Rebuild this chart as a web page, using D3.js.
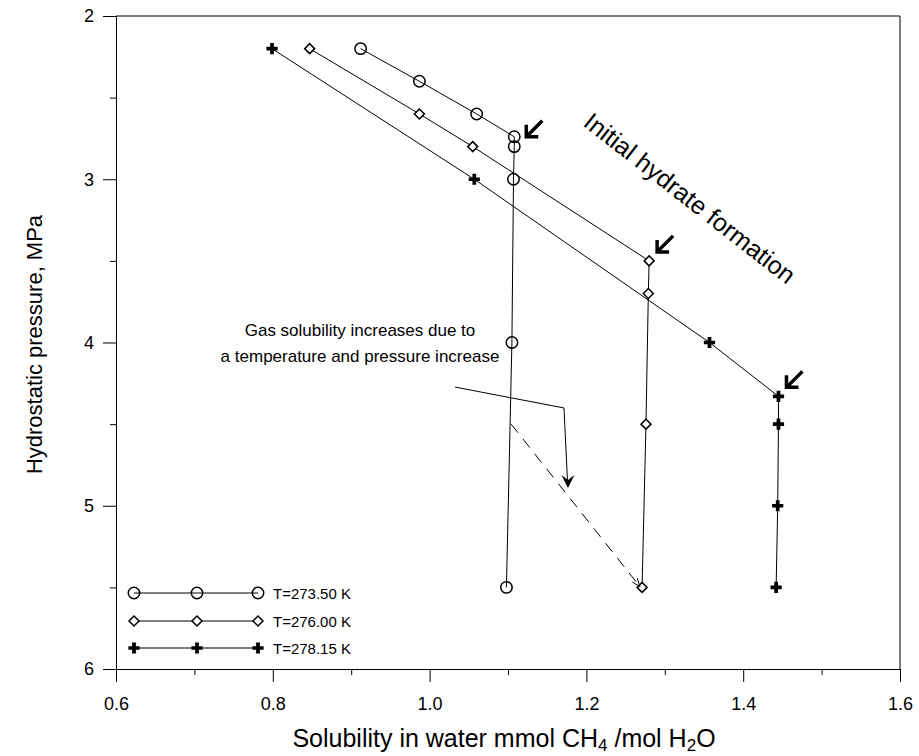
<!DOCTYPE html>
<html>
<head>
<meta charset="utf-8">
<script src="https://cdn.jsdelivr.net/npm/d3@7/dist/d3.min.js"></script>
<style>
  body { margin: 0; background: #fff; }
  svg { display: block; font-family: Arial, "Liberation Sans", Helvetica, sans-serif; }
</style>
</head>
<body>
<svg id="chart" width="919" height="756"></svg>
<script>
// ---------------- data ----------------
const seriesNames = ["T=273.50 K", "T=276.00 K", "T=278.15 K"];
const sol273 = [0.912, 0.987, 1.060, 1.108, 1.108, 1.107, 1.105, 1.098];
const p273   = [2.2,   2.4,   2.6,   2.74,  2.8,   3.0,   4.0,   5.5];
const sol276 = [0.847, 0.987, 1.055, 1.280, 1.279, 1.276, 1.271];
const p276   = [2.2,   2.6,   2.8,   3.5,   3.7,   4.5,   5.5];
const sol278 = [0.799, 1.057, 1.357, 1.445, 1.445, 1.444, 1.442];
const p278   = [2.2,   3.0,   4.0,   4.33,  4.5,   5.0,   5.5];
// points where initial hydrate formation is marked
const hydrateSol = [1.108, 1.280, 1.445];
const hydrateP   = [2.74,  3.5,   4.33];
const xTicks = [0.6, 0.8, 1.0, 1.2, 1.4, 1.6];
const yTicks = [2, 3, 4, 5, 6];

// ---------------- layout ----------------
const svg = d3.select("#chart");
const mLeft = 116, mRight = 900, mTop = 16, mBottom = 669;
const x = d3.scaleLinear().domain([0.6, 1.6]).range([mLeft, mRight]);
const y = d3.scaleLinear().domain([2, 6]).range([mTop, mBottom]);

// frame
svg.append("path").attr("d", `M${mLeft},${mTop}H${mRight}V${mBottom}`)
  .attr("fill", "none").attr("stroke", "#000").attr("stroke-width", 1);

// axes
const xAxis = d3.axisBottom(x).tickValues(xTicks).tickFormat(d3.format(".1f")).tickSize(13).tickPadding(15);
svg.append("g").attr("transform", `translate(0,${mBottom})`).call(xAxis);
const yAxis = d3.axisLeft(y).tickValues(yTicks).tickFormat(d3.format("d")).tickSize(13).tickPadding(9);
svg.append("g").attr("transform", `translate(${mLeft},0)`).call(yAxis);
// minor ticks
const xMinor = [0.7, 0.9, 1.1, 1.3, 1.5];
svg.append("g").attr("transform", `translate(0,${mBottom})`)
  .call(d3.axisBottom(x).tickValues(xMinor).tickSize(6).tickFormat(""));
svg.append("g").attr("transform", `translate(${mLeft},0)`)
  .call(d3.axisLeft(y).tickValues([2.5, 3.5, 4.5, 5.5]).tickSize(6).tickFormat(""));
svg.selectAll(".domain").attr("stroke", "#000");
svg.selectAll(".tick line").attr("stroke", "#000");
svg.selectAll(".tick text").attr("font-size", 18).attr("fill", "#000")
  .attr("font-family", "Arial, 'Liberation Sans', sans-serif");

// axis titles
const xt = svg.append("text").attr("x", 504).attr("y", 747)
  .attr("text-anchor", "middle").attr("font-size", 25).attr("fill", "#000");
xt.append("tspan").text("Solubility in water mmol CH");
xt.append("tspan").attr("font-size", 17).attr("dy", 4).text("4");
xt.append("tspan").attr("dy", -4).text(" /mol H");
xt.append("tspan").attr("font-size", 17).attr("dy", 4).text("2");
xt.append("tspan").attr("dy", -4).text("O");

svg.append("text").attr("transform", `translate(34,${(mTop + mBottom) / 2 + 2}) rotate(-90)`)
  .attr("text-anchor", "middle").attr("dominant-baseline", "central")
  .attr("font-size", 22).attr("fill", "#000").text("Hydrostatic pressure, MPa");

// ---------------- series ----------------
const line = d3.line().x(d => x(d[0])).y(d => y(d[1]));
const sets = [
  { sol: sol273, p: p273, sym: "circle" },
  { sol: sol276, p: p276, sym: "diamond" },
  { sol: sol278, p: p278, sym: "cross" }
];
function drawSym(g, type, cx, cy) {
  if (type === "circle") {
    g.append("circle").attr("cx", cx).attr("cy", cy).attr("r", 5.7)
      .attr("fill", "none").attr("stroke", "#000").attr("stroke-width", 1.5);
  } else if (type === "diamond") {
    g.append("path").attr("d", `M${cx},${cy - 5}L${cx + 5},${cy}L${cx},${cy + 5}L${cx - 5},${cy}Z`)
      .attr("fill", "#fff").attr("stroke", "#000").attr("stroke-width", 1.5);
  } else {
    g.append("path").attr("transform", `translate(${cx},${cy})`)
      .attr("d", d3.symbol(d3.symbolCross, 70)())
      .attr("fill", "#000");
  }
}
sets.forEach(s => {
  const pts = s.sol.map((v, i) => [v, s.p[i]]);
  svg.append("path").attr("d", line(pts)).attr("fill", "none")
    .attr("stroke", "#000").attr("stroke-width", 1);
  const g = svg.append("g");
  pts.forEach(d => drawSym(g, s.sym, x(d[0]), y(d[1])));
});

// ---------------- annotations ----------------
const tipOff = [[12, 0], [8, -9], [8, -9]];
hydrateSol.forEach((v, i) => {
  const tx = x(v) + tipOff[i][0], ty = y(hydrateP[i]) + tipOff[i][1];
  svg.append("path")
    .attr("d", `M${tx + 16},${ty - 16}L${tx + 1},${ty - 1}M${tx},${ty - 12}L${tx},${ty}L${tx + 12},${ty}`)
    .attr("fill", "none").attr("stroke", "#000").attr("stroke-width", 3.5)
    .attr("stroke-linejoin", "miter").attr("stroke-linecap", "butt");
});
svg.append("text").attr("transform", "translate(690,198) rotate(38)")
  .attr("text-anchor", "middle").attr("dominant-baseline", "central")
  .attr("font-size", 25).attr("fill", "#000").text("Initial hydrate formation");

const ann = svg.append("text").attr("text-anchor", "middle").attr("font-size", 17).attr("fill", "#000");
ann.append("tspan").attr("x", 360).attr("y", 336).text("Gas solubility increases due to");
ann.append("tspan").attr("x", 360).attr("y", 362).text("a temperature and pressure increase");

const lead = [[1.0324, 4.273], [1.1714, 4.401], [1.1760, 4.86]];
svg.append("path").attr("d", line(lead)).attr("fill", "none").attr("stroke", "#000").attr("stroke-width", 1);
{
  const tx = x(1.1765), ty = y(4.891);
  svg.append("path").attr("d", `M${tx},${ty}L${tx - 6.5},${ty - 13}L${tx},${ty - 8}L${tx + 6.5},${ty - 13}Z`).attr("fill", "#000");
}
const dashed = [[1.104, 4.5], [1.2684, 5.496]];
svg.append("path").attr("d", line(dashed)).attr("fill", "none").attr("stroke", "#000")
  .attr("stroke-width", 1).attr("stroke-dasharray", "11,8");
{
  const ex = x(1.2684), ey = y(5.496);
  const ang = Math.atan2(ey - y(4.5), ex - x(1.104));
  const a1 = ang + Math.PI - 0.35, a2 = ang + Math.PI + 0.35, L = 9;
  svg.append("path").attr("d", `M${ex + L * Math.cos(a1)},${ey + L * Math.sin(a1)}L${ex},${ey}L${ex + L * Math.cos(a2)},${ey + L * Math.sin(a2)}`)
    .attr("fill", "none").attr("stroke", "#000").attr("stroke-width", 1);
}

// ---------------- legend ----------------
const legY = [593, 621, 648];
const legX = [134, 197, 258];
seriesNames.forEach((name, i) => {
  const g = svg.append("g");
  g.append("line").attr("x1", legX[0]).attr("x2", legX[2]).attr("y1", legY[i]).attr("y2", legY[i])
    .attr("stroke", "#000").attr("stroke-width", 1);
  legX.forEach(lx => drawSym(g, sets[i].sym, lx, legY[i]));
  g.append("text").attr("x", 273).attr("y", legY[i]).attr("dominant-baseline", "central")
    .attr("font-size", 15).attr("fill", "#000").text(name);
});
</script>
</body>
</html>
